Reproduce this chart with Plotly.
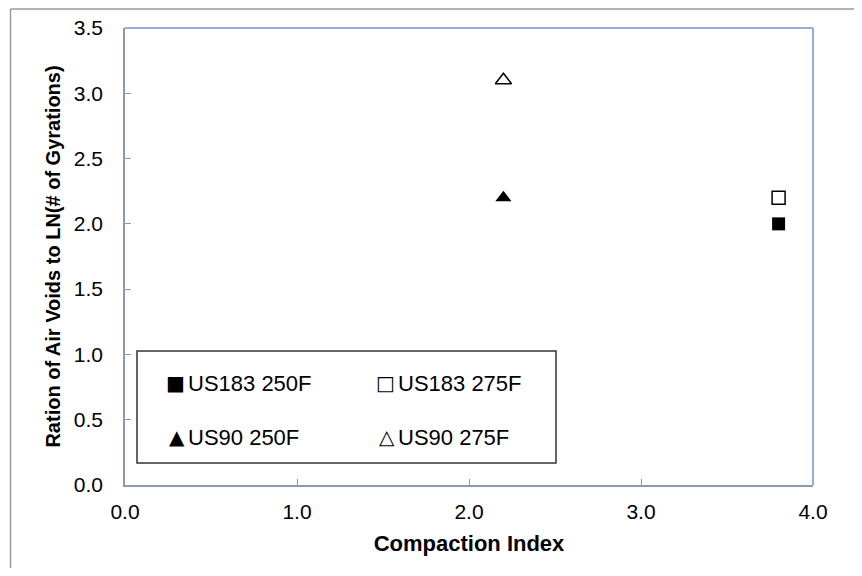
import plotly.graph_objects as go

# Data
series_names = ["US183 250F", "US183 275F", "US90 250F", "US90 275F"]
compaction_index = [3.8, 3.8, 2.2, 2.2]
air_void_ratio = [2.0, 2.2, 2.2, 3.1]
symbols = ["square", "square-open", "triangle-up", "triangle-up-open"]
legend_glyphs = ["■", "□", "▲", "△"]

x_ticks = [0.0, 1.0, 2.0, 3.0, 4.0]
y_ticks = [0.0, 0.5, 1.0, 1.5, 2.0, 2.5, 3.0, 3.5]

# page body has an 8px margin; figure is sized to fit inside the window
OFF = 8
W, H = 862 - 2 * OFF, 576 - 2 * OFF
PL, PT, PR, PB = 125, 28, 813, 485  # plot area in page pixels
L, T = PL - OFF, PT - OFF
PW, PH = PR - PL, PB - PT
R = W - L - PW
B = H - T - PH

def px_x(p):
    return (p - PL) / PW

def px_y(p):
    return (PB - p) / PH

FONT = "Liberation Sans, Arial, sans-serif"
AXIS_GRAY = "#8a9ab4"
PLOT_BLUE = "#6f94d0"

fig = go.Figure()
for name, xv, yv, sym in zip(series_names, compaction_index, air_void_ratio, symbols):
    is_tri = "triangle" in sym
    is_open = "open" in sym
    fig.add_trace(go.Scatter(
        x=[xv], y=[yv], mode="markers", name=name, showlegend=False,
        marker=dict(symbol=sym, size=14 if is_tri else 13, color="black",
                    line=dict(color="black", width=1.5 if is_open else 0)),
    ))

fig.update_layout(
    width=W, height=H,
    margin=dict(l=L, r=R, t=T, b=B, autoexpand=False),
    paper_bgcolor="white", plot_bgcolor="white",
    font=dict(family=FONT, size=21, color="black"),
    xaxis=dict(range=[0, 4], tickvals=x_ticks, tickformat=".1f",
               showgrid=False, zeroline=False, showline=True,
               linecolor=AXIS_GRAY, linewidth=1.5,
               ticks="inside", ticklen=6, tickcolor=AXIS_GRAY,
               ticklabelstandoff=7,
               title=dict(text="<b>Compaction Index</b>", font=dict(size=22), standoff=14)),
    yaxis=dict(range=[0, 3.5], tickvals=y_ticks, tickformat=".1f",
               showgrid=False, zeroline=False, showline=True,
               linecolor=AXIS_GRAY, linewidth=1.5,
               ticks="inside", ticklen=6, tickcolor=AXIS_GRAY,
               ticklabelstandoff=16,
               title=dict(text="<b>Ration of Air Voids to LN(# of Gyrations)</b>",
                          font=dict(size=20), standoff=8)),
)

shapes = [
    # plot area top and right border
    dict(type="line", xref="paper", yref="paper", x0=0, x1=1, y0=1, y1=1,
         line=dict(color=PLOT_BLUE, width=1.5)),
    dict(type="line", xref="paper", yref="paper", x0=1, x1=1, y0=0, y1=1,
         line=dict(color=PLOT_BLUE, width=1.5)),
    # outer chart border (top and left edges)
    dict(type="line", xref="paper", yref="paper",
         x0=px_x(10.5), x1=px_x(900), y0=px_y(9), y1=px_y(9),
         line=dict(color="#9a9a9a", width=1.5), layer="below"),
    dict(type="line", xref="paper", yref="paper",
         x0=px_x(10.5), x1=px_x(10.5), y0=px_y(9), y1=px_y(620),
         line=dict(color="#9a9a9a", width=1.5), layer="below"),
    # legend box
    dict(type="rect", xref="paper", yref="paper",
         x0=px_x(137), x1=px_x(556), y0=px_y(463), y1=px_y(351),
         line=dict(color="#333333", width=1.5), fillcolor="white"),
]
fig.update_layout(shapes=shapes)

legend_cols = [168, 378]
legend_rows = [383, 437]
annotations = []
for i, (name, glyph) in enumerate(zip(series_names, legend_glyphs)):
    cx = legend_cols[i % 2]
    cy = legend_rows[i // 2]
    annotations.append(dict(xref="paper", yref="paper", x=px_x(cx + 19), y=px_y(cy),
                            xanchor="right", yanchor="middle", showarrow=False,
                            text=glyph, font=dict(family="DejaVu Sans", size=20)))
    annotations.append(dict(xref="paper", yref="paper", x=px_x(cx + 18), y=px_y(cy),
                            xanchor="left", yanchor="middle", showarrow=False,
                            text=name, font=dict(size=22)))
fig.update_layout(annotations=annotations)

fig.write_html("out.html")
